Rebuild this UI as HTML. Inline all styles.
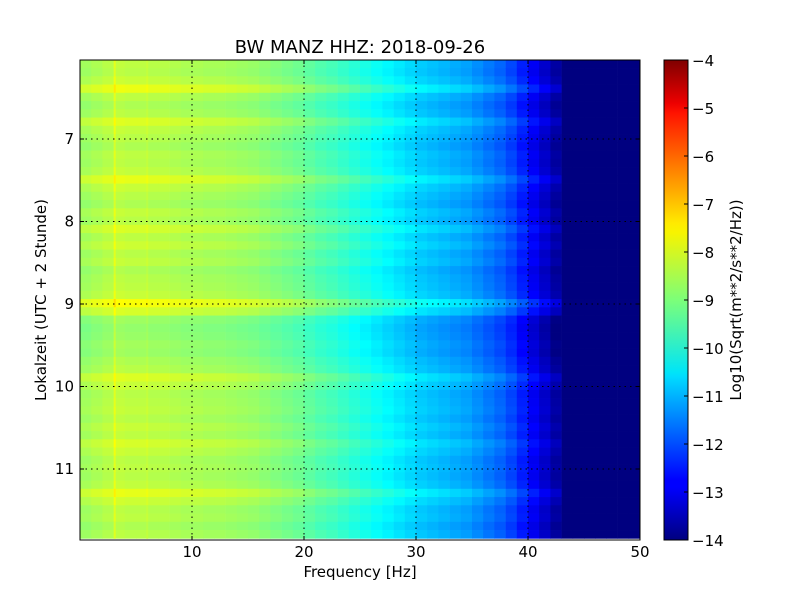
<!DOCTYPE html>
<html><head><meta charset="utf-8"><style>
body{margin:0;background:#fff;}
svg text{font-family:"DejaVu Sans","Liberation Sans",sans-serif;fill:#000;}
</style></head><body>
<svg id="chart" width="800" height="600" xmlns="http://www.w3.org/2000/svg">
<rect width="800" height="600" fill="#fff"/>
<g id="cells"></g>
<g id="grid"></g>
<rect x="80" y="60" width="560" height="480" fill="none" stroke="#000" stroke-width="1"/>
<g id="axes"></g>
<text x="360" y="53" font-size="18" text-anchor="middle">BW MANZ HHZ: 2018-09-26</text>
<text x="360" y="577" font-size="15" text-anchor="middle">Frequency [Hz]</text>
<text transform="translate(46,300) rotate(-90)" font-size="15" text-anchor="middle">Lokalzeit (UTC + 2 Stunde)</text>
<defs><linearGradient id="jet" x1="0" y1="1" x2="0" y2="0"><stop offset="0" stop-color="#00007f"/><stop offset="0.11" stop-color="#0000ff"/><stop offset="0.125" stop-color="#0000ff"/><stop offset="0.34" stop-color="#00dbff"/><stop offset="0.35" stop-color="#00e5f7"/><stop offset="0.5" stop-color="#7cff79"/><stop offset="0.64" stop-color="#f7f400"/><stop offset="0.66" stop-color="#ffea00"/><stop offset="0.89" stop-color="#ff1300"/><stop offset="0.91" stop-color="#ed0000"/><stop offset="1" stop-color="#7f0000"/></linearGradient></defs>
<rect x="664" y="60" width="24" height="480" fill="url(#jet)" stroke="#000"/>
<g id="cbar"></g>
<text transform="translate(741,300) rotate(-90)" font-size="15" text-anchor="middle">Log10(Sqrt(m**2/s**2/Hz))</text>
</svg>
<script>
// frequency profile (log10 amplitude) per 1 Hz bin 0..49
const freqProfile=[-8.7,-8.6,-8.5,-8.4,-8.45,-8.45,-8.5,-8.5,-8.55,-8.6,-8.6,-8.65,-8.65,-8.7,-8.75,-8.8,-8.9,-9.0,-9.1,-9.2,-9.35,-9.5,-9.6,-9.75,-9.9,-10.05,-10.2,-10.35,-10.5,-10.65,-10.8,-10.9,-11.0,-11.1,-11.2,-11.4,-11.6,-11.8,-12.1,-12.5,-12.9,-13.3,-13.7,-15,-15,-15,-15,-15,-15,-15];
// narrow spectral peaks
const peakFreqs=[3.1,6.0];
const peakValues=[-8.05,-8.35];
// per-row offsets, rows of 0.1 h starting at 6.04
const rowOffset=[0.05,0.0,0.15,0.5,0.05,-0.1,0.0,0.35,0.1,0.0,-0.1,0.05,0.0,0.1,0.45,0.15,0.0,-0.1,0.1,0.0,0.3,0.05,0.2,0.0,0.1,-0.1,0.0,0.05,0.15,0.65,0.3,-0.25,-0.35,-0.3,-0.2,-0.25,-0.1,0.0,0.35,0.15,0.0,0.05,0.1,0.0,0.15,0.05,0.3,0.15,0.0,0.05,0.0,0.1,0.45,0.2,0.0,0.05,-0.1,0.0];
const xTicks=[10,20,30,40,50];
const yTicks=[7,8,9,10,11];
const cTicks=[-4,-5,-6,-7,-8,-9,-10,-11,-12,-13,-14];
const t0=6.04,dt=0.1;
const X=f=>80+f*11.2, Y=t=>139+(t-7)*82.5, C=v=>60+(-4-v)*48;
function jet(v){let x=Math.max(0,Math.min(1,(v+14)/10));
 const cl=a=>Math.max(0,Math.min(1,a));
 const r=cl(1.5-Math.abs(4*x-3)),g=cl(1.5-Math.abs(4*x-2)),b=cl(1.5-Math.abs(4*x-1));
 return `rgb(${Math.round(r*255)},${Math.round(g*255)},${Math.round(b*255)})`;}
const NS='http://www.w3.org/2000/svg';
const cells=document.getElementById('cells');
rowOffset.forEach((o,i)=>{
 const ya=Y(t0+i*dt),yb=Math.min(540,Y(t0+(i+1)*dt)),h=Math.max(0,yb-ya+0.4);
 freqProfile.forEach((p,j)=>{
 const r=document.createElementNS(NS,'rect');
 r.setAttribute('x',X(j));r.setAttribute('y',ya);
 r.setAttribute('width',11.5);r.setAttribute('height',h);
 r.setAttribute('fill',jet(p+o));
 
 
 cells.appendChild(r);});
 peakFreqs.forEach((f,k)=>{
 const r=document.createElementNS(NS,'rect');
 r.setAttribute('x',X(f)-1);r.setAttribute('y',ya);
 r.setAttribute('width',2);r.setAttribute('height',h);
 r.setAttribute('fill',jet(peakValues[k]+o));
 
 
 cells.appendChild(r);});
});
const grid=document.getElementById('grid'),axes=document.getElementById('axes'),cbar=document.getElementById('cbar');
function ln(g,x1,y1,x2,y2,dash,name){const l=document.createElementNS(NS,'line');
 l.setAttribute('x1',x1);l.setAttribute('y1',y1);l.setAttribute('x2',x2);l.setAttribute('y2',y2);
 l.setAttribute('stroke','#000');if(dash)l.setAttribute('stroke-dasharray','1.5,4');
 
 
 g.appendChild(l);}
function tx(g,x,y,s,anchor,name){const t=document.createElementNS(NS,'text');
 t.setAttribute('x',x);t.setAttribute('y',y);t.setAttribute('font-size','15');t.setAttribute('text-anchor',anchor);t.textContent=s;
 
 
 g.appendChild(t);}
xTicks.forEach(v=>{const x=X(v);if(v<50)ln(grid,x,60,x,540,true,'x-grid-line');
 ln(axes,x,540,x,536,false,'x-tick');ln(axes,x,60,x,64,false,'x-tick');tx(axes,x,557,v,'middle','x-tick-label');});
yTicks.forEach(v=>{const y=Y(v);ln(grid,80,y,640,y,true,'y-grid-line');
 ln(axes,80,y,84,y,false,'y-tick');ln(axes,640,y,636,y,false,'y-tick');tx(axes,74,y+5,v,'end','y-tick-label');});
cTicks.forEach(v=>{const y=C(v);ln(cbar,688,y,684,y,false,'colorbar-tick');
 tx(cbar,692,y+6,'\u2212'+Math.abs(v),'start','colorbar-tick-label');});
</script>
</body></html>
